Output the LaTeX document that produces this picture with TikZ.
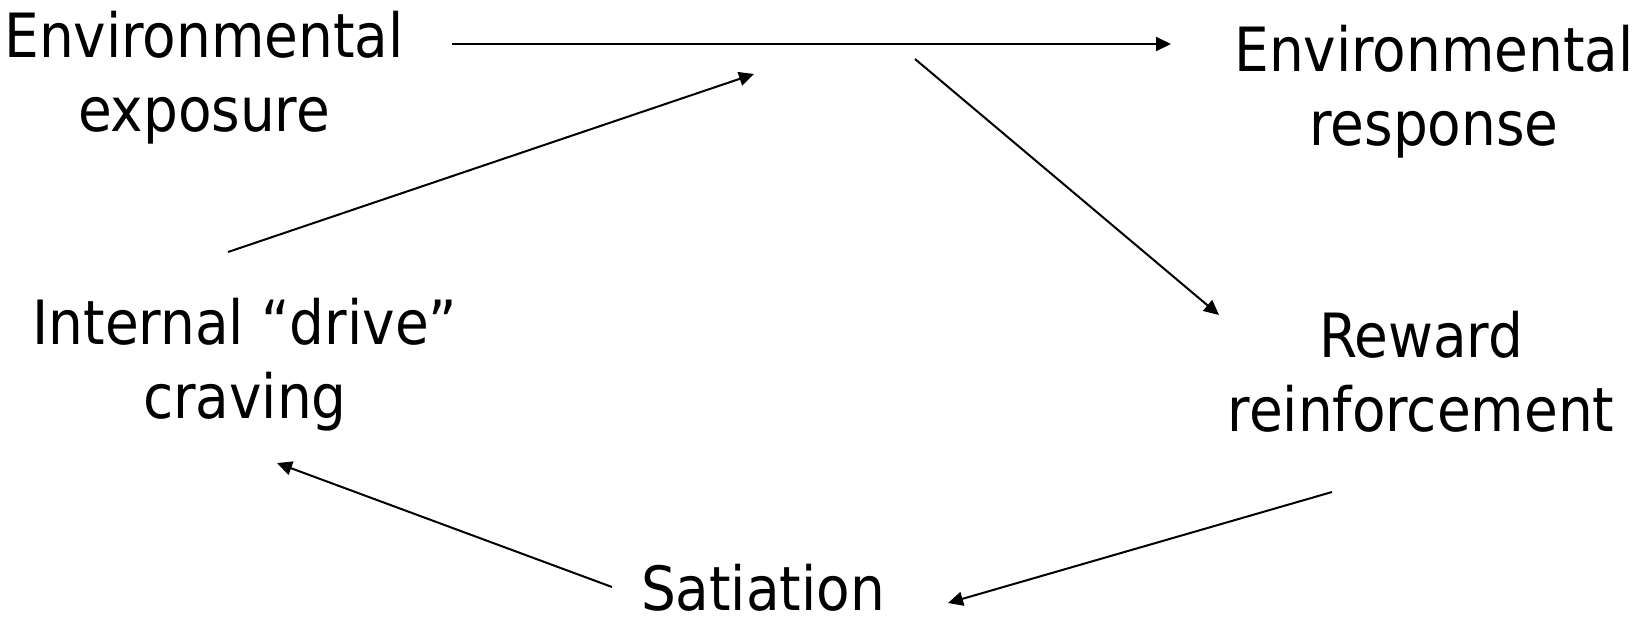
\documentclass[tikz,border=0pt]{standalone}
\usepackage{fontspec}
\setmainfont{DejaVu Sans Condensed}
\usetikzlibrary{arrows.meta}
\begin{document}
\begin{tikzpicture}[x=0.5pt,y=-0.5pt,
  lbl/.style={align=center,inner sep=0pt,anchor=base,font=\fontsize{30.5pt}{37pt}\selectfont},
  conn/.style={line width=1pt,-{Triangle[length=7.5pt,width=7pt]}}]
\useasboundingbox (0,0) rectangle (1638,618);
\node[lbl] (expo) at (204,131) {Environmental\\exposure};
\node[lbl] (resp) at (1434,145) {Environmental\\response};
\node[lbl] (drive) at (245,418) {Internal “drive”\\craving};
\node[lbl] (reward) at (1421,431) {Reward\\reinforcement};
\node[lbl] (sat) at (763,610) {Satiation};
\coordinate (a1s) at (452,44);
\coordinate (a1e) at (1171,44);
\coordinate (a2s) at (915,59);
\coordinate (a2e) at (1219,315);
\coordinate (a3s) at (1332,492);
\coordinate (a3e) at (948,603);
\coordinate (a4s) at (612,587);
\coordinate (a4e) at (277,463);
\coordinate (a5s) at (228,252);
\coordinate (a5e) at (754,74);
\draw[conn] (a1s) -- (a1e);
\draw[conn] (a2s) -- (a2e);
\draw[conn] (a3s) -- (a3e);
\draw[conn] (a4s) -- (a4e);
\draw[conn] (a5s) -- (a5e);
\end{tikzpicture}
\end{document}
